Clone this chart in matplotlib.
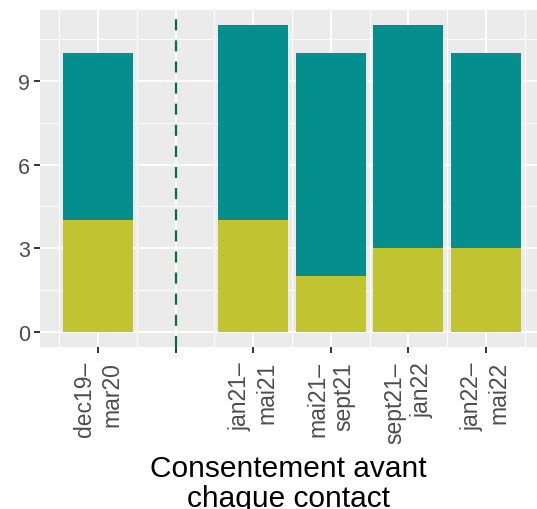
import matplotlib.pyplot as plt
from matplotlib.ticker import FixedLocator

# data
periodes = ['dec19–\nmar20', '', 'jan21–\nmai21', 'mai21–\nsept21', 'sept21–\njan22', 'jan22–\nmai22']
bas = [4, None, 4, 2, 3, 3]
haut = [6, None, 7, 8, 8, 7]
separateur = 1  # empty slot with the dashed line

col_bas = '#C0C431'
col_haut = '#048E8E'

plt.rcParams['font.family'] = ['Liberation Sans', 'DejaVu Sans']

fig = plt.figure(figsize=(5.37, 5.10), dpi=100)
ax = fig.add_axes([40 / 537, 162 / 510, 497 / 537, 337 / 510])
ax.set_facecolor('#EBEBEB')

xs = [i for i, v in enumerate(bas) if v is not None]
b = [bas[i] for i in xs]
h = [haut[i] for i in xs]
ax.bar(xs, b, width=0.9, color=col_bas, zorder=3)
ax.bar(xs, h, bottom=b, width=0.9, color=col_haut, zorder=3)

ax.axvline(separateur, color='#00703C', lw=1.6, linestyle=(0, (5, 4.5)), zorder=4)

ax.set_xlim(-0.75, 5.66)
ax.set_ylim(-0.55, 11.55)

ax.set_xticks(range(len(periodes)))
ax.set_xticklabels(periodes, rotation=90, ha='center', va='top',
                   multialignment='right', linespacing=1.2, fontsize=16.5)
ax.set_yticks([0, 3, 6, 9])
ax.xaxis.set_minor_locator(FixedLocator([i + 0.5 for i in range(-1, 6)]))
ax.yaxis.set_minor_locator(FixedLocator([1.5, 4.5, 7.5, 10.5]))

ax.grid(which='major', color='white', lw=1.4, zorder=0)
ax.grid(which='minor', color='white', lw=0.7, zorder=0)
ax.set_axisbelow(True)

for s in ax.spines.values():
    s.set_visible(False)
ax.tick_params(which='major', length=4, width=1.4, color='#333333',
               labelcolor='#4D4D4D')
ax.tick_params(axis='x', pad=6)
ax.tick_params(axis='y', pad=3, labelsize=15.5)
ax.tick_params(which='minor', length=0)

ax.set_xlabel('Consentement avant\nchaque contact', fontsize=21.5, color='black',
              labelpad=8, linespacing=1.12)

fig.savefig('out.png', dpi=100)
